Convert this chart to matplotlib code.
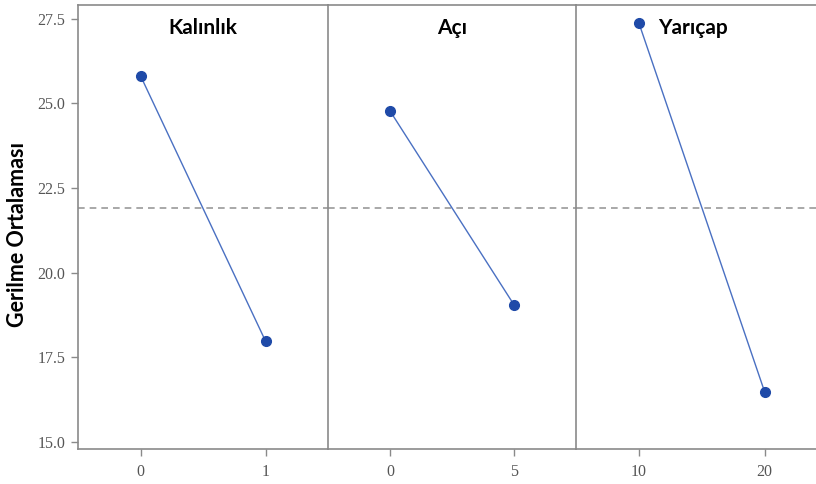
import matplotlib
matplotlib.use("Agg")
import matplotlib.pyplot as plt

# Main effects: mean stress per factor level
factors = ["Kalınlık", "Açı", "Yarıçap"]
levels = [[0, 1], [0, 5], [10, 20]]
means = [[25.82, 17.98], [24.78, 19.05], [27.38, 16.48]]
overall_mean = 21.91
xlims = [(-0.5, 1.5), (-2.5, 7.5), (5, 25)]
yticks = [15.0, 17.5, 20.0, 22.5, 25.0, 27.5]

W, H = 816, 484
fig = plt.figure(figsize=(W / 100, H / 100), dpi=100)

left, bottom, top = 78, 449, 5
panel_px = [(78, 328), (328, 576), (576, 827.5)]

frame_col = "#8a8a8a"
line_col = "#4a70c2"
marker_col = "#1f4aa8"
tick_font = dict(family="Liberation Serif", size=11.5, color="#555555")

axes = []
for i, (x0, x1) in enumerate(panel_px):
    ax = fig.add_axes([x0 / W, 1 - bottom / H, (x1 - x0) / W, (bottom - top) / H])
    axes.append(ax)
    ax.plot(levels[i], means[i], color=line_col, lw=1.0, marker="o",
            markersize=7, markerfacecolor=marker_col, markeredgecolor=marker_col,
            zorder=3)
    ax.axhline(overall_mean, color="#9a9a9a", lw=1.2, ls=(0, (4, 3)), zorder=1)
    ax.set_xlim(*xlims[i])
    ax.set_ylim(14.79, 27.91)
    ax.set_xticks(levels[i])
    ax.set_xticklabels([str(v) for v in levels[i]], fontdict=tick_font)
    ax.set_yticks(yticks)
    for s in ax.spines.values():
        s.set_color(frame_col)
        s.set_linewidth(1.2)
    ax.spines["right"].set_visible(False)
    ax.tick_params(axis="x", direction="out", length=5, width=1, colors=frame_col,
                   labelcolor="#555555", pad=6)
    if i == 0:
        ax.set_yticklabels([f"{v:.1f}" for v in yticks], fontdict=tick_font)
        ax.tick_params(axis="y", direction="out", length=5, width=1, colors=frame_col,
                       labelcolor="#555555", pad=4)
    else:
        ax.tick_params(axis="y", left=False, labelleft=False)
    title_x = [0.5, 0.5, 0.465][i]
    ax.text(title_x, 0.948, factors[i], transform=ax.transAxes, ha="center",
            va="center", fontsize=15, fontweight="bold", family="Lato", color="black")

axes[0].set_ylabel("Gerilme Ortalaması", fontsize=15.5, fontweight="bold",
                   family="Lato", color="black")
axes[0].yaxis.set_label_coords(-0.2, 0.482)

fig.savefig("out.png", dpi=100)
